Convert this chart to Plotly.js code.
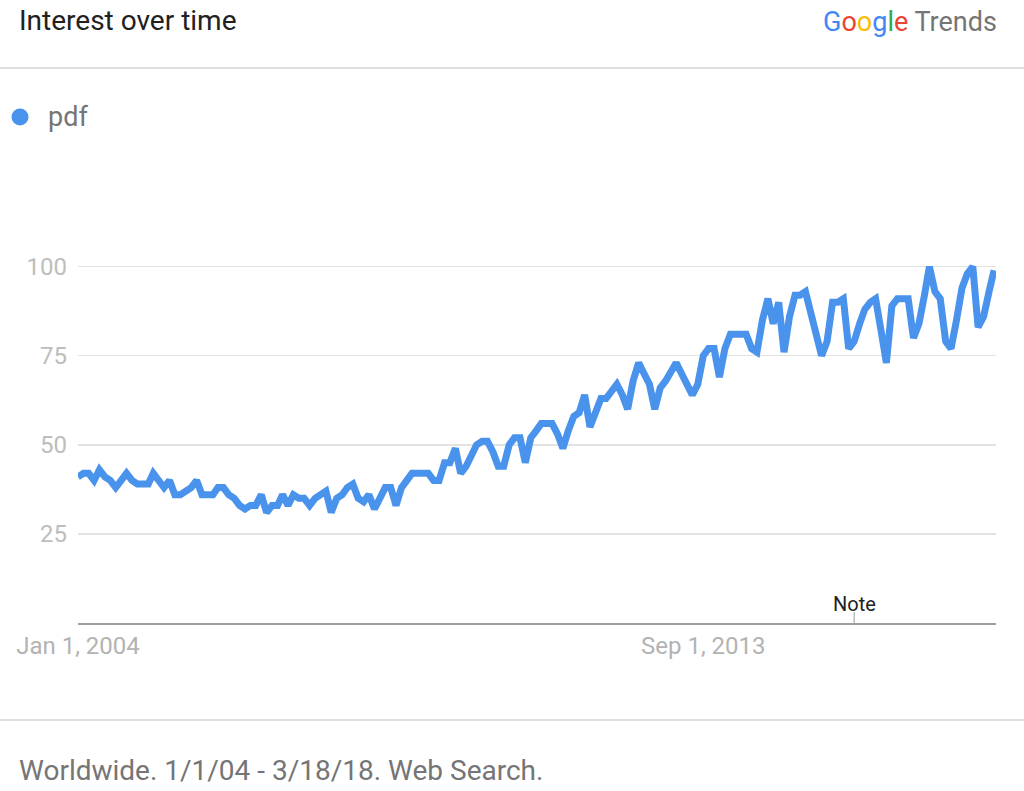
<!DOCTYPE html>
<html>
<head>
<meta charset="utf-8">
<script src="https://cdn.plot.ly/plotly-3.0.1.min.js"></script>
<style>
  html, body { margin: 0; padding: 0; background: #ffffff; }
  #chart { width: 1024px; height: 791px; }
</style>
</head>
<body>
<div id="chart"></div>
<script>
// ---- Data (monthly interest) ----
const seriesName = "pdf";
const startYear = 2004;
const v2004 = [41,42,42,40,43,41,40,38,40,42,40,39];
const v2005 = [39,39,42,40,38,40,36,36,37,38,40,36];
const v2006 = [36,36,38,38,36,35,33,32,33,33,36,31];
const v2007 = [33,33,36,33,36,35,35,33,35,36,37,31];
const v2008 = [35,36,38,39,35,34,36,32,35,38,38,33];
const v2009 = [38,40,42,42,42,42,40,40,45,45,49,42];
const v2010 = [44,47,50,51,51,48,44,44,50,52,52,45];
const v2011 = [52,54,56,56,56,53,49,54,58,59,64,55];
const v2012 = [59,63,63,65,67,64,60,68,73,70,67,60];
const v2013 = [66,68,70,73,70,67,64,67,75,77,77,69];
const v2014 = [77,81,81,81,81,77,76,85,91,84,90,76];
const v2015 = [86,92,92,93,87,81,75,79,90,90,91,77];
const v2016 = [79,84,88,90,91,82,73,89,91,91,91,80];
const v2017 = [84,92,100,93,91,79,77,85,94,98,100,83];
const v2018 = [86,93,99];

const yTickVals = [25, 50, 75, 100];
const xTickVals = ["2004-01-01", "2013-09-01"];
const xTickText = ["Jan 1, 2004", "Sep 1, 2013"];
const noteDate = ["2016-01-01"];
const noteText = ["Note"];

const values = [].concat(v2004, v2005, v2006, v2007, v2008, v2009, v2010,
  v2011, v2012, v2013, v2014, v2015, v2016, v2017, v2018);
const dates = values.map(function (_, i) {
  const y = startYear + Math.floor(i / 12);
  const m = (i % 12) + 1;
  return y + "-" + (m < 10 ? "0" + m : m) + "-01";
});

// ---- Layout geometry ----
const W = 1024, H = 791;
const L = 78, R = 996, T = 231, B = 623;
const pw = R - L, ph = B - T;
function px(x) { return (x - L) / pw; }
function py(y) { return (B - y) / ph; }

const blue = "#4a93ec";
const FONT = "Roboto, 'Noto Sans', Arial, sans-serif";

const trace = {
  x: dates, y: values, type: "scatter", mode: "lines",
  name: seriesName,
  line: { color: blue, width: 7, shape: "linear" },
  hoverinfo: "skip", showlegend: false
};

const logo =
  '<span style="color:#4285F4">G</span><span style="color:#EA4335">o</span>' +
  '<span style="color:#FBBC05">o</span><span style="color:#4285F4">g</span>' +
  '<span style="color:#34A853">l</span><span style="color:#EA4335">e</span>' +
  '<span style="color:#757575"> Trends</span>';

const layout = {
  width: W, height: H,
  margin: { l: L, r: W - R, t: T, b: H - B, pad: 0 },
  paper_bgcolor: "#ffffff", plot_bgcolor: "#ffffff",
  font: { family: FONT },
  showlegend: false,
  xaxis: {
    type: "date",
    range: ["2004-01-01", "2018-03-12"],
    showgrid: false, zeroline: false,
    showline: true, linecolor: "#9e9e9e", linewidth: 2,
    tickmode: "array", tickvals: xTickVals, ticktext: xTickText,
    ticks: "", ticklabelstandoff: 0,
    tickfont: { family: FONT, size: 24, color: "#b3b3b3" },
    fixedrange: true
  },
  yaxis: {
    range: [0, 110],
    showgrid: true, gridcolor: "#e3e3e3", gridwidth: 1.5,
    zeroline: false, showline: false,
    tickmode: "array", tickvals: yTickVals,
    ticks: "", ticklabelstandoff: 10,
    tickfont: { family: FONT, size: 24, color: "#bdbdbd" },
    fixedrange: true
  },
  shapes: [
    { type: "line", xref: "paper", yref: "paper", x0: px(0), x1: px(W), y0: py(68), y1: py(68),
      line: { color: "#e0e0e0", width: 2 } },
    { type: "line", xref: "paper", yref: "paper", x0: px(0), x1: px(W), y0: py(720), y1: py(720),
      line: { color: "#e0e0e0", width: 2 } },
    { type: "circle", xref: "paper", yref: "paper", x0: px(11.5), x1: px(28.5), y0: py(125.5), y1: py(108.5),
      fillcolor: blue, line: { width: 0 } },
    { type: "line", xref: "x", yref: "paper", x0: noteDate[0], x1: noteDate[0], y0: py(623), y1: py(612),
      line: { color: "#9e9e9e", width: 1 } }
  ],
  annotations: [
    { xref: "paper", yref: "paper", x: px(17), y: py(20), xanchor: "left", yanchor: "middle",
      text: "Interest over time", showarrow: false,
      font: { family: FONT, size: 28, color: "#212121" } },
    { xref: "paper", yref: "paper", x: px(999), y: py(22), xanchor: "right", yanchor: "middle",
      text: logo, showarrow: false,
      font: { family: FONT, size: 27, color: "#757575" } },
    { xref: "paper", yref: "paper", x: px(46), y: py(117), xanchor: "left", yanchor: "middle",
      text: seriesName, showarrow: false,
      font: { family: FONT, size: 27, color: "#757575" } },
    { xref: "x", yref: "paper", x: noteDate[0], y: py(604), xanchor: "center", yanchor: "middle",
      text: noteText[0], showarrow: false,
      font: { family: FONT, size: 20, color: "#222222" } },
    { xref: "paper", yref: "paper", x: px(17), y: py(770), xanchor: "left", yanchor: "middle",
      text: "Worldwide. 1/1/04 - 3/18/18. Web Search.", showarrow: false,
      font: { family: FONT, size: 28, color: "#757575" } }
  ]
};

Plotly.newPlot("chart", [trace], layout, { displayModeBar: false, staticPlot: true });
</script>
</body>
</html>
